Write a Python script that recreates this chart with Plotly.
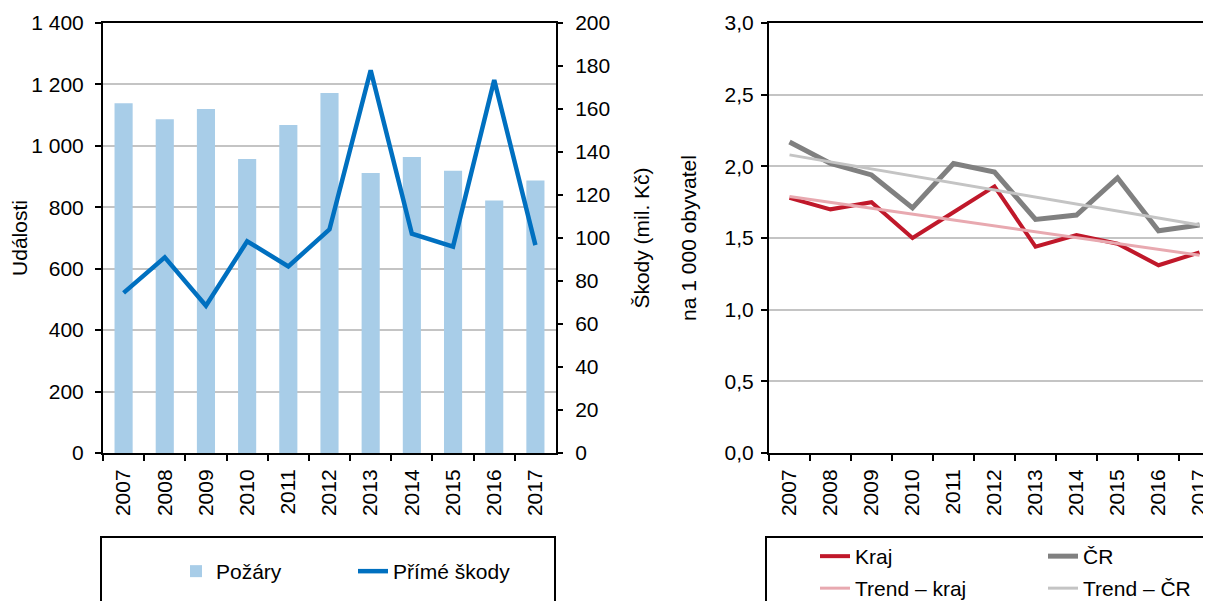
import plotly.graph_objects as go

years = ["2007", "2008", "2009", "2010", "2011", "2012", "2013", "2014", "2015", "2016", "2017"]
pozary = [1139, 1087, 1120, 957, 1068, 1172, 912, 964, 919, 822, 887]
skody = [74.5, 91, 68.5, 98.5, 86.8, 104, 178, 102, 96, 173.5, 96.7]
kraj = [1.78, 1.70, 1.75, 1.50, 1.68, 1.86, 1.44, 1.52, 1.46, 1.31, 1.40]
cr = [2.17, 2.02, 1.94, 1.71, 2.02, 1.96, 1.63, 1.66, 1.92, 1.55, 1.59]
trend_years = ["2007", "2017"]
trend_kraj = [1.79, 1.38]
trend_cr = [2.08, 1.59]

# the page body has an 8 px margin; the figure is sized/positioned so that the
# drawn chart lines up with the 1211x601 window
OFF = 8
W, H = 1211 - OFF, 601 - OFF
FONT = "Liberation Sans, Arial, sans-serif"
FS = 21


def px_x(v):
    return (v - OFF) / W


def px_y(v):
    return 1 - (v - OFF) / H


fig = go.Figure()

fig.add_trace(go.Bar(x=years, y=pozary, name="Požáry", marker=dict(color="#a8cde8", line=dict(width=0)),
                     xaxis="x", yaxis="y", legend="legend", legendwidth=132))
fig.add_trace(go.Scatter(x=years, y=skody, name="Přímé škody", mode="lines",
                         line=dict(color="#0070c0", width=4.5), xaxis="x", yaxis="y2", legend="legend"))

fig.add_trace(go.Scatter(x=years, y=kraj, name="Kraj", mode="lines",
                         line=dict(color="#c0182a", width=4), xaxis="x2", yaxis="y3",
                         legend="legend2", legendwidth=183))
fig.add_trace(go.Scatter(x=years, y=cr, name="ČR", mode="lines",
                         line=dict(color="#808080", width=5), xaxis="x2", yaxis="y3",
                         legend="legend2", legendwidth=60))
fig.add_trace(go.Scatter(x=trend_years, y=trend_kraj, name="Trend – kraj", mode="lines",
                         line=dict(color="#e8a9b0", width=3), xaxis="x2", yaxis="y3",
                         legend="legend3", legendwidth=183))
fig.add_trace(go.Scatter(x=trend_years, y=trend_cr, name="Trend – ČR", mode="lines",
                         line=dict(color="#c4c4c4", width=3), xaxis="x2", yaxis="y3",
                         legend="legend3", legendwidth=120))

ydom = [px_y(453), px_y(23)]
axis_common = dict(showline=True, linecolor="black", linewidth=2, ticks="outside", automargin=False,
                   tickcolor="black", tickwidth=1.5, tickfont=dict(size=FS, color="black"))

fig.update_layout(
    width=W, height=H,
    margin=dict(l=0, r=0, t=0, b=0, autoexpand=False),
    paper_bgcolor="white", plot_bgcolor="white",
    font=dict(family=FONT, size=FS, color="black"),
    separators=", ",
    bargap=0.56,
    xaxis=dict(domain=[px_x(103), px_x(556)], type="category", range=[-0.5, 10.5],
               tickson="boundaries", ticklen=6, tickangle=-90, mirror=True, anchor="y",
               ticklabelstandoff=6, showgrid=False, **axis_common),
    yaxis=dict(domain=ydom, range=[0, 1400], dtick=200, separatethousands=True,
               showgrid=True, gridcolor="#c4c4c4", gridwidth=1.5, zeroline=False,
               ticklen=6, ticklabelstandoff=7, anchor="x",
               title=dict(text="Události", font=dict(size=FS), standoff=3), **axis_common),
    yaxis2=dict(domain=ydom, range=[0, 200], dtick=20, overlaying="y", side="right", anchor="x",
                showgrid=False, zeroline=False, ticklen=5, ticklabelstandoff=8,
                title=dict(text="Škody (mil. Kč)", font=dict(size=FS), standoff=25), **axis_common),
    xaxis2=dict(domain=[px_x(769), 1.0], type="category", range=[-0.5, 10.28],
                tickson="boundaries", ticklen=6, tickangle=-90, mirror=True, anchor="y3",
                ticklabelstandoff=6, showgrid=False, **axis_common),
    yaxis3=dict(domain=ydom, range=[0, 3.0], dtick=0.5, tickformat=".1f",
                showgrid=True, gridcolor="#c4c4c4", gridwidth=1.5, zeroline=False,
                ticklen=6, ticklabelstandoff=3, anchor="x2",
                title=dict(text="na 1 000 obyvatel", font=dict(size=FS), standoff=22), **axis_common),
    legend=dict(orientation="h", x=px_x(176), xanchor="left", y=px_y(551), yanchor="top",
                bgcolor="rgba(0,0,0,0)", borderwidth=0, font=dict(size=FS), entrywidthmode="pixels"),
    legend2=dict(orientation="h", x=px_x(815), xanchor="left", y=px_y(536), yanchor="top",
                 bgcolor="rgba(0,0,0,0)", borderwidth=0, font=dict(size=FS), entrywidthmode="pixels"),
    legend3=dict(orientation="h", x=px_x(815), xanchor="left", y=px_y(568), yanchor="top",
                 bgcolor="rgba(0,0,0,0)", borderwidth=0, font=dict(size=FS), entrywidthmode="pixels"),
    shapes=[
        dict(type="rect", xref="paper", yref="paper", x0=px_x(101), x1=px_x(555),
             y0=px_y(640), y1=px_y(537), line=dict(color="black", width=2), layer="above"),
        dict(type="rect", xref="paper", yref="paper", x0=px_x(766), x1=px_x(1260),
             y0=px_y(640), y1=px_y(537), line=dict(color="black", width=2), layer="above"),
    ],
)

fig.write_html("out.html")
